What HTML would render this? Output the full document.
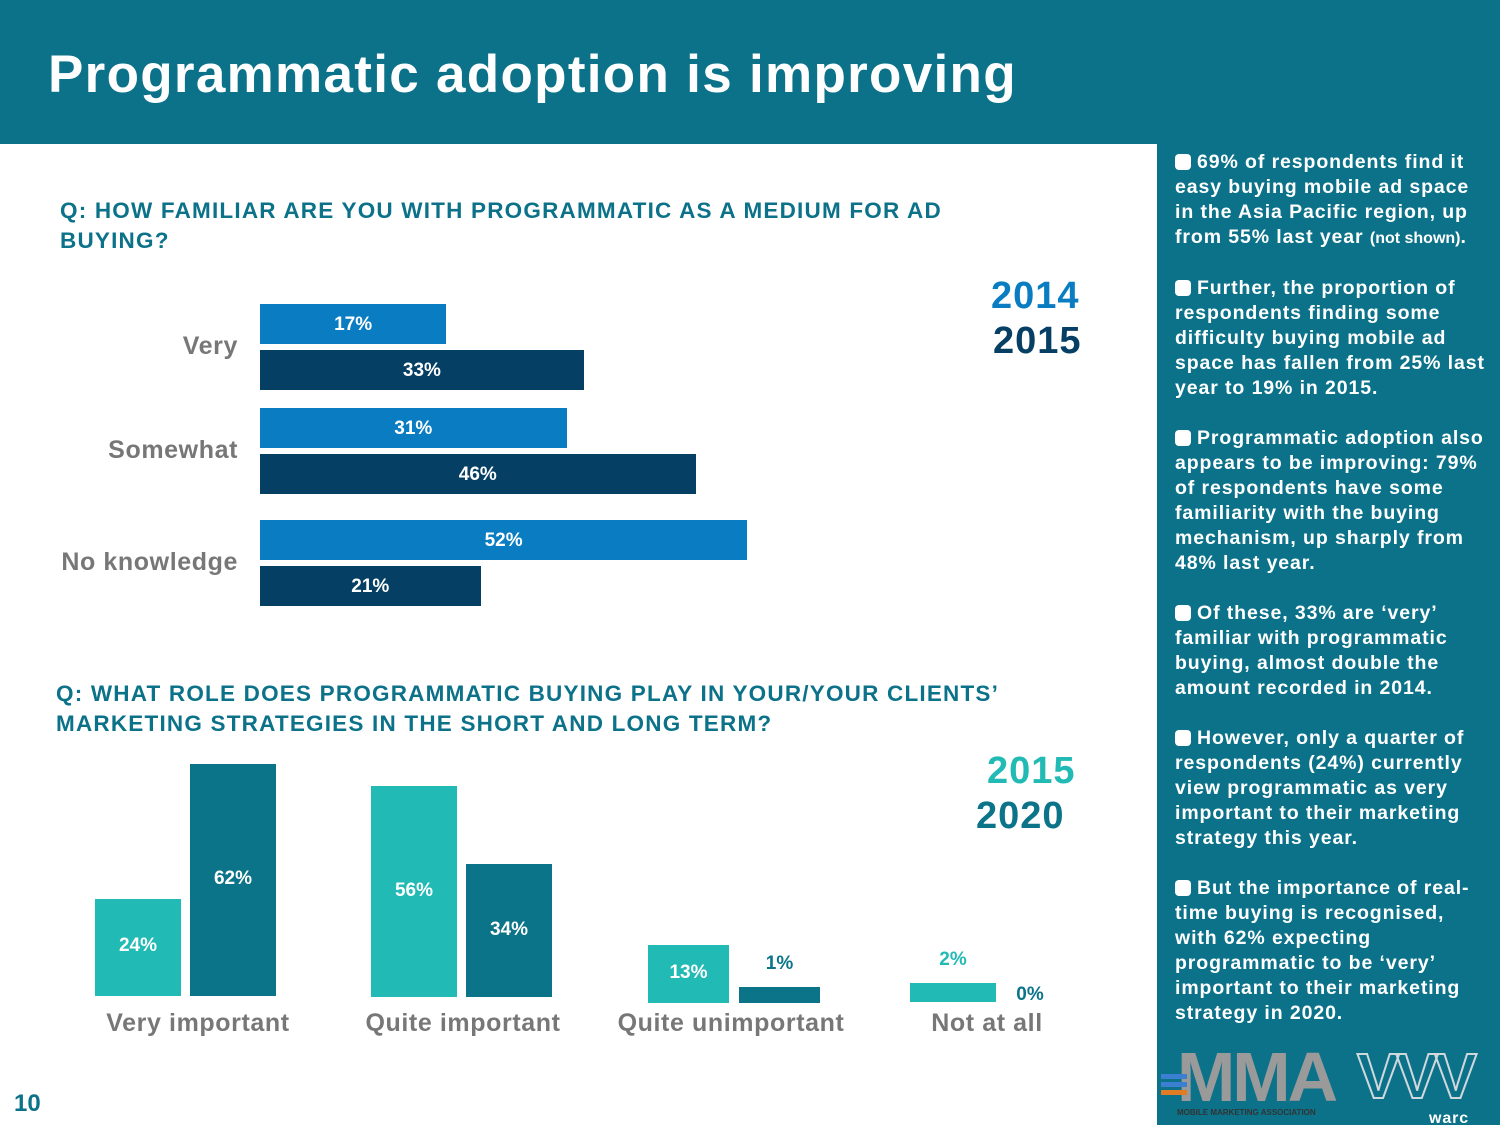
<!DOCTYPE html>
<html><head><meta charset="utf-8"><style>
body{margin:0;width:1500px;height:1125px;position:relative;background:#fff;font-family:"Liberation Sans",sans-serif;overflow:hidden}
.abs{position:absolute}
#header{left:0;top:0;width:1500px;height:144px;background:#0b7289}
#title{left:48px;top:44px;color:#fff;font-size:53px;font-weight:bold;margin:0;letter-spacing:1.3px}
#side{left:1157px;top:144px;width:343px;height:981px;background:#0b7289;color:#fff;font-size:19.5px;font-weight:bold;line-height:25px;letter-spacing:0.9px}
.q{color:#0b7289;font-size:22.5px;font-weight:bold;line-height:30px;letter-spacing:1.2px}
.cat{color:#777;font-size:25px;font-weight:bold;letter-spacing:0.6px}
.lbl{color:#fff;font-size:19px;font-weight:bold;text-align:center}
p.b{margin:0 0 25px 0}
.dot{display:inline-block;width:16px;height:16px;background:#fff;border-radius:4px;vertical-align:-2px;margin-right:6px}
</style></head><body>
<div id="header" class="abs"></div>
<h1 id="title" class="abs">Programmatic adoption is improving</h1>
<div id="side" class="abs">
<div style="padding:6px 12px 0 18px">
<p class="b"><span class="dot"></span>69% of respondents find it easy buying mobile ad space in the Asia Pacific region, up from 55% last year <span style="font-size:16px;letter-spacing:0">(not shown)</span>.</p>
<p class="b"><span class="dot"></span>Further, the proportion of respondents finding some difficulty buying mobile ad space has fallen from 25% last year to 19% in 2015.</p>
<p class="b"><span class="dot"></span>Programmatic adoption also appears to be improving: 79% of respondents have some familiarity with the buying mechanism, up sharply from 48% last year.</p>
<p class="b"><span class="dot"></span>Of these, 33% are ‘very’ familiar with programmatic buying, almost double the amount recorded in 2014.</p>
<p class="b"><span class="dot"></span>However, only a quarter of respondents (24%) currently view programmatic as very important to their marketing strategy this year.</p>
<p class="b"><span class="dot"></span>But the importance of real-time buying is recognised, with 62% expecting programmatic to be ‘very’ important to their marketing strategy in 2020.</p>
</div>
<div class="abs" style="left:20px;top:898px;font-size:70px;font-weight:bold;color:#9a9a9a;letter-spacing:-3px;line-height:70px">MMA</div>
<div class="abs" style="left:20px;top:956px;font-size:8px;font-weight:bold;color:#333;letter-spacing:0">MOBILE MARKETING ASSOCIATION</div>
<div class="abs" style="left:4px;top:930px;width:26px;height:5px;background:#3a7fd0"></div>
<div class="abs" style="left:4px;top:938px;width:26px;height:5px;background:#3a7fd0"></div>
<div class="abs" style="left:4px;top:946px;width:26px;height:5px;background:#e07b26"></div>
<div class="abs" style="left:200px;top:900px;font-size:64px;font-weight:bold;color:transparent;-webkit-text-stroke:2px #cfd8dc;letter-spacing:-4px;line-height:64px">VVV</div>
<div class="abs" style="left:272px;top:962px;font-size:16px;color:#fff">warc</div>
</div>
<div class="abs" style="left:14px;top:1090px;color:#0b7289;font-size:24px;font-weight:bold">10</div>

<div class="abs q" style="left:60px;top:196px;width:980px">Q: HOW FAMILIAR ARE YOU WITH PROGRAMMATIC AS A MEDIUM FOR AD BUYING?</div>
<div class="abs" style="left:991px;top:275px;font-size:38px;font-weight:bold;color:#0a7dc2;letter-spacing:1px">2014</div>
<div class="abs" style="left:993px;top:320px;font-size:38px;font-weight:bold;color:#053f63;letter-spacing:1px">2015</div>

<div class="abs q" style="left:56px;top:679px;width:1060px">Q: WHAT ROLE DOES PROGRAMMATIC BUYING PLAY IN YOUR/YOUR CLIENTS’ MARKETING STRATEGIES IN THE SHORT AND LONG TERM?</div>
<div class="abs" style="left:987px;top:750px;font-size:38px;font-weight:bold;color:#22bab5;letter-spacing:1px">2015</div>
<div class="abs" style="left:976px;top:795px;font-size:38px;font-weight:bold;color:#0b7489;letter-spacing:1px">2020</div>

<script>
const cats1=["Very","Somewhat","No knowledge"];
const v2014=[17,31,52];
const v2015=[33,46,21];
const cats2=["Very important","Quite important","Quite unimportant","Not at all"];
const v2015b=[24,56,13,2];
const v2020=[62,34,1,0];

function mk(css,txt){const d=document.createElement('div');d.className='abs';d.style.cssText=css;if(txt!==undefined)d.textContent=txt;document.body.appendChild(d);return d;}
const xw=v=>40+8.6*v;
const groupY=[304,408,520];
cats1.forEach((c,i)=>{
  const y=groupY[i];
  const l=mk(`left:20px;top:${y+28}px;width:218px;text-align:right;`,c);l.className='abs cat';
  
  
  [[v2014[i],'#0a7dc2',0],[v2015[i],'#053f63',46]].forEach(([v,col,off],k)=>{
    const w=xw(v);
    const b=mk(`left:260px;top:${y+off}px;width:${w}px;height:40px;background:${col};`);
    
    
    const t=mk(`left:260px;top:${y+off+10}px;width:${w}px;`,v+'%');t.className='abs lbl';
    
    
  });
});
const hy=v=>Math.max(15,12+3.55*v);
const gx=[95,371,648,910];
const cx=[198,463,731,987];
const base=[996,997,1003,1002];
cats2.forEach((c,i)=>{
  const l=mk(`left:${cx[i]-150}px;top:1009px;width:300px;text-align:center;`,c);l.className='abs cat';
  
  
  [[v2015b[i],'#22bab5',0],[v2020[i],'#0b7489',i==2?91:95]].forEach(([v,col,off],k)=>{
    const x=gx[i]+off, w=i==2?81:86;
    if(v>0){
      const h=hy(v);
      const b=mk(`left:${x}px;top:${base[i]-h}px;width:${w}px;height:${h}px;background:${col};`);
      
      
    }
    let t;
    if(v>=10){t=mk(`left:${x}px;top:${base[i]-hy(v)/2-12}px;width:${w}px;`,v+'%');t.className='abs lbl';}
    else if(v>0){t=mk(`left:${x}px;top:${base[i]-hy(v)-34}px;width:${w}px;color:${i==3?'#22bab5':'#0b7489'}`,v+'%');t.className='abs lbl';}
    else {t=mk(`left:${gx[i]+100}px;top:${base[i]-18}px;width:40px;color:#0b7489`,v+'%');t.className='abs lbl';}
    
    
  });
});
</script>
</body></html>
